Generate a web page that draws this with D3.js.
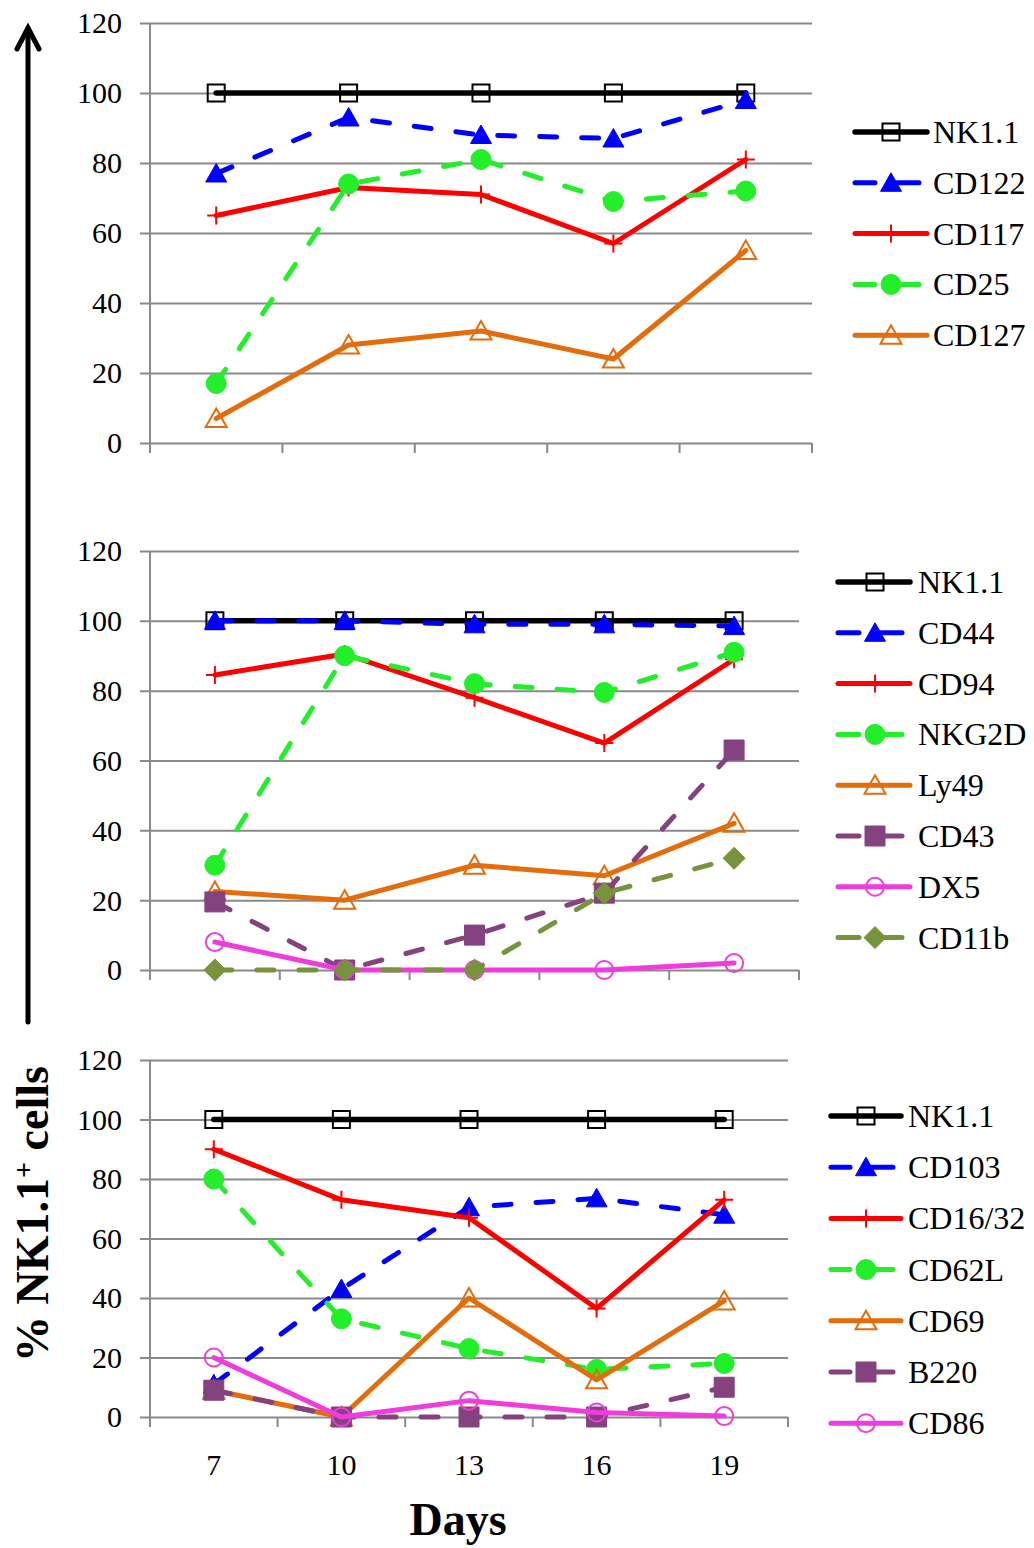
<!DOCTYPE html>
<html><head><meta charset="utf-8">
<script src="https://cdn.jsdelivr.net/npm/d3@7"></script>
<style>body{margin:0;background:#fff} svg{display:block}</style>
</head><body>
<svg id="c" width="1034" height="1548"></svg>
<script>
// ---------- DATA ----------
const days = ["7", "10", "13", "16", "19"];
const yTicks = [0, 20, 40, 60, 80, 100, 120];

// Panel 1
const p1Names = ["NK1.1", "CD122", "CD117", "CD25", "CD127"];
const p1_NK11  = [100, 100, 100, 100, 100];
const p1_CD122 = [77, 93, 88, 87, 98];
const p1_CD117 = [65, 73, 71, 57, 81];
const p1_CD25  = [17, 74, 81, 69, 72];
const p1_CD127 = [7, 28, 32, 24, 55];

// Panel 2
const p2Names = ["NK1.1", "CD44", "CD94", "NKG2D", "Ly49", "CD43", "DX5", "CD11b"];
const p2_NK11  = [100, 100, 100, 100, 100];
const p2_CD44  = [100, 100, 99, 99, 98.5];
const p2_CD94  = [84.5, 90.5, 78, 65, 89];
const p2_NKG2D = [30, 90, 82, 79.5, 91];
const p2_Ly49  = [22.5, 20, 30, 27, 42];
const p2_CD43  = [19.5, 0, 10, 22, 63];
const p2_DX5   = [8, 0, 0, 0, 2];
const p2_CD11b = [0, 0, 0, 22, 32];

// Panel 3
const p3Names = ["NK1.1", "CD103", "CD16/32", "CD62L", "CD69", "B220", "CD86"];
const p3_NK11   = [100, 100, 100, 100, 100];
const p3_CD103  = [11, 43, 70.5, 73.5, 68];
const p3_CD1632 = [90, 73, 67, 36.5, 73];
const p3_CD62L  = [80, 33, 23, 16, 18];
const p3_CD69   = [9, 0, 40, 12.5, 39];
const p3_B220   = [9, 0, 0, 0, 10];
const p3_CD86   = [20, 0, 5.5, 1.5, 0.3];

const panelSeries = [
  [p1_NK11, p1_CD122, p1_CD117, p1_CD25, p1_CD127],
  [p2_NK11, p2_CD44, p2_CD94, p2_NKG2D, p2_Ly49, p2_CD43, p2_DX5, p2_CD11b],
  [p3_NK11, p3_CD103, p3_CD1632, p3_CD62L, p3_CD69, p3_B220, p3_CD86]
];
const panelNames = [p1Names, p2Names, p3Names];

// ---------- STYLES ----------
const styles = [
  {color: "#000000", marker: "square",   filled: false, dashed: false, w: 5.5},
  {color: "#0000FF", marker: "triangle", filled: true,  dashed: true,  w: 5},
  {color: "#FF0000", marker: "plus",     filled: false, dashed: false, w: 5},
  {color: "#22EE2A", marker: "circle",   filled: true,  dashed: true,  w: 5},
  {color: "#E46C0A", marker: "triangle", filled: false, dashed: false, w: 5},
  {color: "#84427F", marker: "square",   filled: true,  dashed: true,  w: 5},
  {color: "#F03CDC", marker: "circle",   filled: false, dashed: false, w: 5},
  {color: "#77933C", marker: "diamond",  filled: true,  dashed: true,  w: 5}
];
const DASH = "17 25";

const layouts = [
  {x0: 150, x1: 812, yTop: 23,   yBot: 443,  lx0: 855, lx1: 927, mx: 891, tx: 933, ly0: 132,  ldy: 50.8, xLabels: false},
  {x0: 150, x1: 799, yTop: 551,  yBot: 970,  lx0: 838, lx1: 910, mx: 875, tx: 918, ly0: 582,  ldy: 50.8, xLabels: false},
  {x0: 150, x1: 788, yTop: 1060, yBot: 1417, lx0: 831, lx1: 901, mx: 866, tx: 908, ly0: 1116, ldy: 51.2, xLabels: true}
];

const FONT = "'Liberation Serif','Times New Roman',serif";
const GRID = "#8a8a8a";
const svg = d3.select("#c");

function markerPath(type, big) {
  const p = d3.path();
  if (type === "square") {
    const h = big ? 10 : 8.5;
    p.rect(-h, -h, 2 * h, 2 * h);
  } else if (type === "triangle") {
    p.moveTo(0, -10); p.lineTo(10.5, 8.5); p.lineTo(-10.5, 8.5); p.closePath();
  } else if (type === "plus") {
    p.moveTo(-9, 0); p.lineTo(9, 0); p.moveTo(0, -9); p.lineTo(0, 9);
  } else if (type === "circle") {
    const r = big ? 10 : 9;
    p.arc(0, 0, r, 0, 2 * Math.PI);
  } else if (type === "diamond") {
    p.moveTo(0, -11); p.lineTo(11, 0); p.lineTo(0, 11); p.lineTo(-11, 0); p.closePath();
  }
  return p.toString();
}

function drawMarker(g, st, x, y) {
  const big = st.filled;
  const path = g.append("path")
    .attr("transform", `translate(${x},${y})`)
    .attr("d", markerPath(st.marker, big));
  if (st.marker === "plus") {
    path.attr("fill", "none").attr("stroke", st.color).attr("stroke-width", 2);
  } else if (st.filled) {
    path.attr("fill", st.color).attr("stroke", st.color).attr("stroke-width", 1);
  } else {
    path.attr("fill", "none").attr("stroke", st.color).attr("stroke-width", 2);
  }
}

layouts.forEach((L, pi) => {
  const g = svg.append("g");
  const x = d3.scaleBand().domain(days).range([L.x0, L.x1]).paddingInner(0).paddingOuter(0);
  const cx = d => x(d) + x.bandwidth() / 2;
  const y = d3.scaleLinear().domain([0, 120]).range([L.yBot, L.yTop]);

  // y axis with gridlines
  const ya = g.append("g").attr("transform", `translate(${L.x0 - 10},0)`)
    .call(d3.axisLeft(y).tickValues(yTicks).tickSize(-(L.x1 - L.x0 + 10)).tickPadding(18));
  ya.select(".domain").remove();
  ya.selectAll(".tick line").attr("stroke", GRID).attr("stroke-width", 2);
  ya.selectAll(".tick text").attr("font-family", FONT).attr("font-size", 30).attr("fill", "#000")
    .attr("dy", "0.33em");

  // left vertical axis line
  g.append("line").attr("x1", L.x0).attr("x2", L.x0).attr("y1", y(120)).attr("y2", y(0) + 10)
    .attr("stroke", GRID).attr("stroke-width", 2);
  // bottom ticks at band boundaries
  const bounds = days.map(d => x(d)).concat([x.range()[1]]);
  g.selectAll(".btick").data(bounds).enter().append("line")
    .attr("x1", d => d).attr("x2", d => d).attr("y1", y(0)).attr("y2", y(0) + 10)
    .attr("stroke", GRID).attr("stroke-width", 2);

  if (L.xLabels) {
    g.selectAll(".xl").data(days).enter().append("text")
      .attr("x", d => cx(d)).attr("y", y(0) + 58)
      .attr("text-anchor", "middle").attr("font-family", FONT).attr("font-size", 30)
      .text(d => d);
  }

  // series
  const line = d3.line().x((v, i) => cx(days[i])).y(v => y(v));
  panelSeries[pi].forEach((vals, si) => {
    const st = styles[si];
    const sg = g.append("g");
    sg.append("path").attr("d", line(vals)).attr("fill", "none")
      .attr("stroke", st.color).attr("stroke-width", st.w)
      .attr("stroke-linecap", "round").attr("stroke-linejoin", "round")
      .attr("stroke-dasharray", st.dashed ? DASH : null);
    vals.forEach((v, i) => drawMarker(sg, st, cx(days[i]), y(v)));
  });

  // legend
  panelNames[pi].forEach((name, si) => {
    const st = styles[si];
    const ly = L.ly0 + si * L.ldy;
    const lg = g.append("g");
    if (st.dashed) {
      lg.append("line").attr("x1", L.lx0).attr("x2", L.mx - 16).attr("y1", ly).attr("y2", ly)
        .attr("stroke", st.color).attr("stroke-width", st.w).attr("stroke-linecap", "round");
      lg.append("line").attr("x1", L.mx + 6).attr("x2", L.lx1 - 8).attr("y1", ly).attr("y2", ly)
        .attr("stroke", st.color).attr("stroke-width", st.w).attr("stroke-linecap", "round");
    } else {
      lg.append("line").attr("x1", L.lx0).attr("x2", L.lx1).attr("y1", ly).attr("y2", ly)
        .attr("stroke", st.color).attr("stroke-width", st.w).attr("stroke-linecap", "round");
    }
    drawMarker(lg, st, L.mx, ly);
    lg.append("text").attr("x", L.tx).attr("y", ly + 11)
      .attr("font-family", FONT).attr("font-size", 32).text(name);
  });
});

// Arrow on the left
svg.append("path").attr("d", "M28,1022 V30").attr("stroke", "#000").attr("stroke-width", 5)
  .attr("fill", "none").attr("stroke-linecap", "round");
svg.append("path").attr("d", "M17,49 L28,28 L39,49").attr("stroke", "#000").attr("stroke-width", 5)
  .attr("fill", "none").attr("stroke-linecap", "round").attr("stroke-linejoin", "miter");

// Y label
const yl = svg.append("text").attr("transform", "translate(48,1214) rotate(-90)")
  .attr("text-anchor", "middle").attr("font-family", FONT).attr("font-weight", "bold")
  .attr("font-size", 46);
yl.append("tspan").text("% NK1.1");
yl.append("tspan").attr("baseline-shift", "super").attr("font-size", 28).text("+");
yl.append("tspan").text(" cells");

// X label
svg.append("text").attr("x", 458).attr("y", 1535).attr("text-anchor", "middle")
  .attr("font-family", FONT).attr("font-weight", "bold").attr("font-size", 46).text("Days");
</script>
</body></html>
